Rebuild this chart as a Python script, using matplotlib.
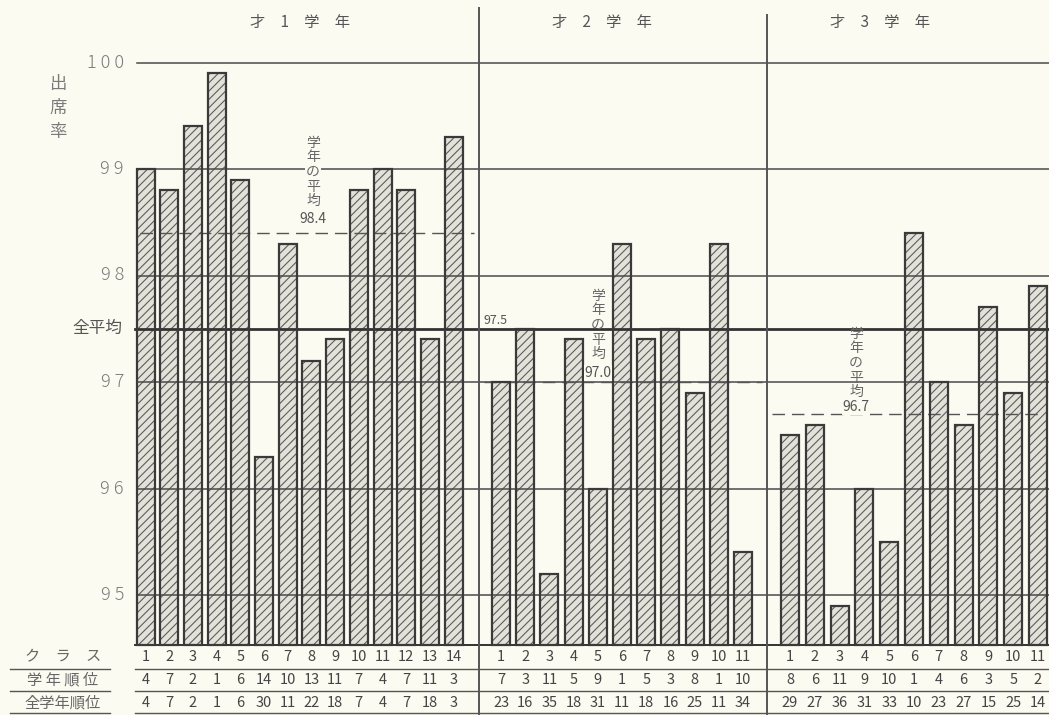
import matplotlib
matplotlib.use("Agg")
import matplotlib.pyplot as plt

plt.rcParams['font.family'] = ['Noto Sans CJK JP', 'DejaVu Sans']
plt.rcParams['hatch.linewidth'] = 0.8

# ---------------- data ----------------
year_titles = ["才\u30001\u3000学\u3000年", "才\u30002\u3000学\u3000年", "才\u30003\u3000学\u3000年"]
row_labels = ["ク\u3000ラ\u3000ス", "学 年 順 位", "全学年順位"]

classes_y1 = list(range(1, 15))
rate_y1 = [99.0, 98.8, 99.4, 99.9, 98.9, 96.3, 98.3, 97.2, 97.4, 98.8, 99.0, 98.8, 97.4, 99.3]
grade_rank_y1 = [4, 7, 2, 1, 6, 14, 10, 13, 11, 7, 4, 7, 11, 3]
overall_rank_y1 = [4, 7, 2, 1, 6, 30, 11, 22, 18, 7, 4, 7, 18, 3]

classes_y2 = list(range(1, 12))
rate_y2 = [97.0, 97.5, 95.2, 97.4, 96.0, 98.3, 97.4, 97.5, 96.9, 98.3, 95.4]
grade_rank_y2 = [7, 3, 11, 5, 9, 1, 5, 3, 8, 1, 10]
overall_rank_y2 = [23, 16, 35, 18, 31, 11, 18, 16, 25, 11, 34]

classes_y3 = list(range(1, 12))
rate_y3 = [96.5, 96.6, 94.9, 96.0, 95.5, 98.4, 97.0, 96.6, 97.7, 96.9, 97.9]
grade_rank_y3 = [8, 6, 11, 9, 10, 1, 4, 6, 3, 5, 2]
overall_rank_y3 = [29, 27, 36, 31, 33, 10, 23, 27, 15, 25, 14]

year_avg = [98.4, 97.0, 96.7]
year_avg_labels = ["98.4", "97.0", "96.7"]
overall_avg = 97.5
ytick_values = [100, 99, 98, 97, 96, 95]
ytick_labels = ["1 0 0", "9 9", "9 8", "9 7", "9 6", "9 5"]

# ---------------- layout ----------------
W, H = 1049, 715
BG = "#fbfbf2"
INK = "#3a3a3a"

def val(p):       # pixel row -> value
    return 97.0 - (p - 382.0) / 106.5

fig = plt.figure(figsize=(W / 100, H / 100), dpi=100, facecolor=BG)
ax = fig.add_axes([0, 0, 1, 1])
ax.set_facecolor(BG)
ax.set_xlim(0, W)
ax.set_ylim(val(H), val(0))
ax.axis("off")

BASE = val(645)
sections = [
    dict(first=145.5, step=23.7, cls=classes_y1, rate=rate_y1, gr=grade_rank_y1, orr=overall_rank_y1, x0=135, x1=479),
    dict(first=501.0, step=24.2, cls=classes_y2, rate=rate_y2, gr=grade_rank_y2, orr=overall_rank_y2, x0=479, x1=767),
    dict(first=790.0, step=24.8, cls=classes_y3, rate=rate_y3, gr=grade_rank_y3, orr=overall_rank_y3, x0=767, x1=W),
]
BW = 18

row_y = [657, 680, 703]
for s in sections:
    xs = [s["first"] + i * s["step"] for i in range(len(s["rate"]))]
    heights = [r - BASE for r in s["rate"]]
    ax.bar(xs, heights, bottom=BASE, width=BW, facecolor="#e2e2da",
           edgecolor="#5e5e58", hatch="////", linewidth=0, zorder=2)
    ax.bar(xs, heights, bottom=BASE, width=BW, facecolor="none",
           edgecolor=INK, linewidth=1.6, zorder=4)
    for k, arr in enumerate([s["cls"], s["gr"], s["orr"]]):
        for x, v in zip(xs, arr):
            ax.text(x, val(row_y[k]), str(v), ha="center", va="center",
                    fontsize=10.5, color="#444444", zorder=5)

# gridlines
for v in ytick_values:
    ax.plot([137, W], [v, v], color="#4a4a4a", lw=1.1, zorder=3)
ax.plot([135, W], [overall_avg, overall_avg], color="#333333", lw=2.0, zorder=3)
ax.plot([135, W], [BASE, BASE], color="#333333", lw=1.4, zorder=3)

# year averages (dashed)
for s, a in zip(sections, year_avg):
    ax.plot([s["x0"] + 5, s["x1"] - 5], [a, a], color="#555555", lw=1.0,
            dashes=(9, 5), zorder=3)

# dividers
for x, top in [(479, 8), (767, 15)]:
    ax.plot([x, x], [val(top), val(H)], color="#555555", lw=1.4, zorder=3)

# y labels
for v, lab in zip(ytick_values, ytick_labels):
    ax.text(124, v, lab, ha="right", va="center", fontsize=13, color="#7a7a7a",
            fontweight="light")
ax.text(122, overall_avg, "全平均", ha="right", va="center", fontsize=12, color="#555555")
ax.text(58, val(108), "出\n席\n率", ha="center", va="center", fontsize=12.5,
        color="#7a7a7a", linespacing=1.45)
ax.text(496, val(320), "97.5", ha="center", va="center", fontsize=9, color="#555555")

# year titles
for t, x in zip(year_titles, [300, 602, 880]):
    ax.text(x, val(22), t, ha="center", va="center", fontsize=11, color="#555555")

# average annotations
ann = [(313, 172, 219, True), (598, 325, 373, False), (856, 363, 407, False)]
for (x, yc, yn, box), lab in zip(ann, year_avg_labels):
    bb = dict(facecolor=BG, edgecolor="none", pad=0.5) if box else None
    ax.text(x, val(yc), "学\n年\nの\n平\n均", ha="center", va="center", fontsize=10,
            color="#666666", linespacing=1.05, zorder=6, bbox=bb)
    ax.text(x, val(yn), lab, ha="center", va="center", fontsize=10, color="#555555", zorder=6,
            bbox=dict(facecolor=BG, edgecolor="none", pad=0.5))

# table
for lab, y in zip(row_labels, row_y):
    ax.text(63, val(y), lab, ha="center", va="center", fontsize=11, color="#666666")
for y in [669, 691, 713]:
    ax.plot([10, 110], [val(y), val(y)], color="#555555", lw=1.0)
    ax.plot([135, W], [val(y), val(y)], color="#555555", lw=1.0)

fig.savefig("out.png", dpi=100, facecolor=BG)
